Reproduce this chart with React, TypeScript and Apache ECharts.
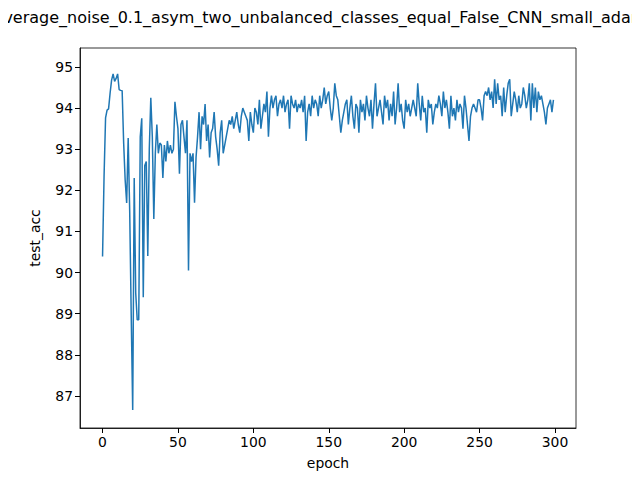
import React, { useEffect, useRef } from 'react';
import * as echarts from 'echarts';

const title = 'average_noise_0.1_asym_two_unbalanced_classes_equal_False_CNN_small_adam';
const xTicks = [0, 50, 100, 150, 200, 250, 300];
const yTicks = [87, 88, 89, 90, 91, 92, 93, 94, 95];

const acc0 = [90.39, 92.33, 93.76, 93.95, 93.98, 94.36, 94.68, 94.83, 94.65, 94.72, 94.83, 94.45, 94.43, 94.42, 93.15, 92.25, 91.69, 93.27, 91.5, 89.0,
  86.66, 92.3, 89.5, 88.85, 88.85, 93.3, 93.75, 89.4, 92.6, 92.7, 90.4, 93.0, 94.25, 93.3, 91.3, 92.9, 93.6, 92.9, 93.15, 93.1,
  92.3, 93.1, 92.7, 93.2, 92.9, 93.1, 92.9, 93.0, 94.15, 93.8, 93.5, 92.4, 93.6, 93.7, 93.3, 92.9, 93.7, 90.05, 92.9, 92.7,
  92.9, 91.7, 92.8, 93.3, 93.9];
const acc1 = [93.0, 93.8, 93.6, 94.1, 93.2, 93.6, 92.8, 93.4, 93.5, 93.9, 93.3, 93.0, 92.6, 93.4, 93.7, 92.9, 93.1, 93.3, 93.5, 93.7,
  93.6, 93.8, 93.5, 93.7, 93.9, 93.6, 93.4, 93.8, 94.0, 93.9, 93.8, 93.7, 93.2, 93.9, 93.6, 93.4, 94.0];
const acc2 = [93.9, 93.6, 94.2, 93.5, 93.8, 94.1, 93.9, 94.4, 93.3, 94.0, 94.3, 94.0, 94.2, 94.3, 93.8, 94.1, 94.2, 94.0, 94.3, 93.9,
  94.1, 94.2, 93.5, 94.3, 94.1, 94.0, 94.2, 93.9, 94.1, 94.0, 94.2, 93.9, 94.3, 93.2, 93.9, 94.1, 93.8, 94.3, 94.0, 94.2,
  94.1, 93.8, 94.3, 94.0, 94.2, 94.5, 94.1, 94.3, 94.4, 94.0];
const acc3 = [93.7, 94.0, 94.6, 94.3, 94.2, 93.8, 93.4, 93.7, 93.9, 94.1, 94.2, 93.6, 94.0, 94.3, 93.8, 93.5, 94.1, 94.0, 93.4, 94.2,
  93.9, 94.1, 93.7, 94.3, 94.0, 93.8, 94.2, 93.5, 94.1, 94.6, 93.8, 94.0, 94.2, 93.9, 93.6, 94.3, 94.0, 94.2, 93.7, 94.1,
  93.8, 94.4, 93.6, 94.0, 94.6, 93.9, 94.1, 93.7, 93.5, 94.2];
const acc4 = [93.9, 94.1, 93.8, 94.0, 94.2, 94.0, 93.8, 94.6, 94.1, 93.7, 94.3, 93.9, 94.0, 93.4, 94.2, 94.0, 94.1, 93.6, 93.9, 94.1,
  94.0, 94.3, 94.1, 93.8, 94.4, 94.0, 94.2, 93.9, 93.5, 94.3, 93.8, 94.0, 93.7, 94.2, 93.9, 94.1, 94.0, 93.5, 94.3, 94.0,
  93.6, 93.2, 93.8, 94.0, 94.1, 94.0, 93.9, 94.2, 94.2, 94.0];
const acc5 = [93.7, 94.3, 94.4, 94.3, 94.5, 94.2, 94.4, 94.0, 94.7, 94.1, 94.6, 94.2, 94.3, 93.8, 94.5, 93.9, 94.3, 94.6, 94.7, 93.8,
  94.1, 94.4, 94.2, 93.9, 94.3, 94.0, 94.1, 94.5, 94.3, 94.0, 94.2, 94.6, 93.7, 94.6, 94.0, 94.5, 93.9, 94.4, 94.2, 94.3,
  94.1, 93.9, 93.6, 94.0, 94.1, 94.2, 93.9, 94.2, 93.8, 94.45];
const testAcc = [...acc0, ...acc1, ...acc2, ...acc3, ...acc4, ...acc5].slice(0, 300);

export default function App() {
  const ref = useRef<HTMLDivElement>(null);
  useEffect(() => {
    if (!ref.current) return;
    const chart = echarts.init(ref.current, null, { renderer: 'svg' });
    const font = { fontFamily: 'DejaVu Sans', fontSize: 13.9, color: '#000' };
    chart.setOption({
      animation: false,
      title: { text: title, left: 'center', top: 4, textStyle: { fontFamily: 'DejaVu Sans', fontSize: 16, fontWeight: 'normal', color: '#000' } },
      grid: { left: 80, right: 64, top: 48, bottom: 52 },
      xAxis: {
        type: 'value', min: -14.95, max: 313.95,
        name: 'epoch', nameLocation: 'middle', nameGap: 28, nameTextStyle: font,
        axisLine: { onZero: false, lineStyle: { color: '#000', width: 0.8 } },
        axisTick: { customValues: xTicks, length: 5, lineStyle: { color: '#000' } },
        axisLabel: { customValues: xTicks, ...font, margin: 7 },
        splitLine: { show: false },
      },
      yAxis: {
        type: 'value', min: 86.22, max: 95.46,
        name: 'test_acc', nameLocation: 'middle', nameGap: 38, nameTextStyle: font,
        axisLine: { show: true, onZero: false, lineStyle: { color: '#000', width: 0.8 } },
        axisTick: { show: true, customValues: yTicks, length: 5, lineStyle: { color: '#000' } },
        axisLabel: { customValues: yTicks, ...font, margin: 7 },
        splitLine: { show: false },
      },
      series: [{
        type: 'line', data: testAcc.map((v, i) => [i, v]), showSymbol: false,
        lineStyle: { color: '#1f77b4', width: 1.5 },
      }],
    });
    // top/right frame
    chart.setOption({
      graphic: [{ type: 'rect', shape: { x: 80, y: 48, width: 496, height: 380 }, style: { fill: 'none', stroke: '#000', lineWidth: 0.8 }, silent: true }],
    });
    return () => chart.dispose();
  }, []);
  return <div ref={ref} style={{ width: 640, height: 480, margin: -8 }} />;
}
